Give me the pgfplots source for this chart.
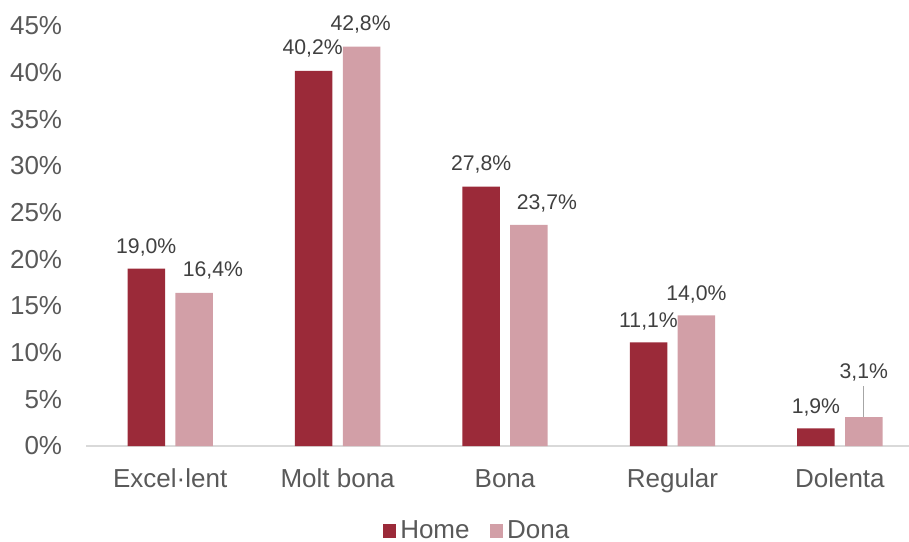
\documentclass[border=0pt]{standalone}
\usepackage{fontspec}
\setmainfont{Liberation Sans}
\usepackage{pgfplots}
\pgfplotsset{compat=1.18}
\usepackage{pgfplotstable}
\definecolor{home}{RGB}{155,42,57}
\definecolor{dona}{RGB}{210,159,167}
\definecolor{ticktxt}{RGB}{89,89,89}
\definecolor{lbltxt}{RGB}{64,64,64}
\definecolor{axisline}{RGB}{217,217,217}
\definecolor{leader}{RGB}{166,166,166}

\pgfplotstableread{
x y dx dy
0 19.0 0 7.5
1 40.2 -0.5 8.2
2 27.8 0 7.9
3 11.1 0 7.5
4 1.9 0 7.2
}\homedata

\pgfplotstableread{
x y dx dy
0 16.4 9.4 8.1
1 42.8 -0.5 7.9
2 23.7 9 7.8
3 14.0 0 7.3
4 3.1 0 19.4
}\donadata

\begin{document}
\begin{tikzpicture}
\begin{axis}[
 name=ax,
 scale only axis, width=411.25bp, height=210bp,
 xmin=-0.5, xmax=4.413, ymin=0, ymax=45,
 clip=false,
 axis x line*=bottom, axis y line*=left,
 x axis line style={draw=axisline, line width=1bp, -},
 y axis line style={draw=none},
 xtick={0,1,2,3,4},
 xticklabels={Excel·lent, Molt bona, Bona, Regular, Dolenta},
 ytick={0,5,...,45},
 major tick length=0pt,
 tick style={draw=none},
 /pgf/number format/assume math mode=true,
 yticklabel={\pgfmathprintnumber{\tick}\%},
 ticklabel style={font=\fontsize{13bp}{15bp}\selectfont, text=ticktxt},
 yticklabel style={anchor=east, inner sep=0pt, xshift=-12bp},
 xticklabel style={anchor=base, inner sep=0pt, yshift=-20.6bp},
 ybar, bar width=0.224,
 nodes near coords={\pgfmathprintnumber[fixed,precision=1,fixed zerofill,use comma]{\pgfplotspointmeta}\%},
 every node near coord/.append style={anchor=base, font=\fontsize{10.6bp}{12bp}\selectfont, text=lbltxt, inner sep=0pt, xshift=\dx bp, yshift=\dy bp},
 legend style={draw=none, fill=none, at={(0.476,-0.203)}, anchor=center, legend columns=-1,
   font=\fontsize{13bp}{15bp}\selectfont, text=ticktxt,
   nodes={inner ysep=0pt, inner xsep=2bp},
   /tikz/every even column/.append style={column sep=8bp}},
 legend image code/.code={\fill[#1] (0bp,-3.4bp) rectangle (6.8bp,3.4bp);},
]
\addplot[fill=home, draw=none, bar shift=-0.143,
  visualization depends on={\thisrow{dx}\as\dx},
  visualization depends on={\thisrow{dy}\as\dy}] table[x=x,y=y] {\homedata};
\addplot[fill=dona, draw=none, bar shift=0.143,
  visualization depends on={\thisrow{dx}\as\dx},
  visualization depends on={\thisrow{dy}\as\dy}] table[x=x,y=y] {\donadata};
\draw[leader, line width=0.75bp] (axis cs:4.142,3.1) -- (axis cs:4.142,6.43);
\legend{Home, Dona}
\end{axis}
\pgfresetboundingbox
\path[use as bounding box] ([xshift=-43.25bp,yshift=-48bp]ax.south west) rectangle ([yshift=13bp]ax.north east);
\end{tikzpicture}
\end{document}
